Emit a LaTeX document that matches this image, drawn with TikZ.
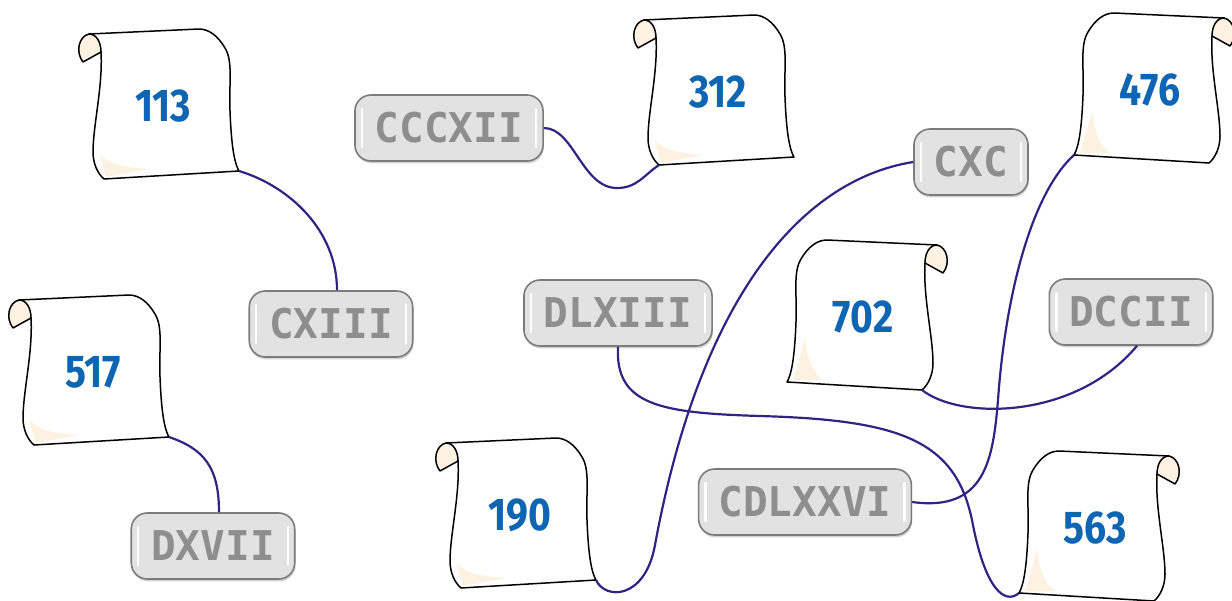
\documentclass[tikz,border=0pt]{standalone}
\usepackage{fontspec}
\usetikzlibrary{shadows}
\newfontfamily\numfont{Fira Sans}[FakeStretch=0.85]
\newfontfamily\romfont{DejaVu Sans Mono}
\definecolor{numblue}{HTML}{0E65B2}
\definecolor{linkcol}{HTML}{2F2483}
\definecolor{curlcol}{HTML}{FDF1E1}
\definecolor{tabfill}{HTML}{E2E2E2}
\definecolor{tabline}{HTML}{7C7C7C}
\definecolor{tabtext}{HTML}{8E8E8E}

% paper scroll, curl on the right, drawn round (0,0)
\newcommand{\scrollshape}{%
  \draw[scrollline, fill=white] (-36,-77) -- (74,-72) -- (62,-54)
    .. controls (60,-20) and (70,20) .. (70,46)
    .. controls (70,58) and (65,68) .. (59,73) -- (-76,65)
    .. controls (-70,55) and (-68,30) .. (-67,5)
    .. controls (-66,-25) and (-70,-45) .. (-62,-58)
    .. controls (-55,-70) and (-46,-77) .. (-36,-77) -- cycle;
  \draw[scrollline, fill=curlcol] (74,-72) .. controls (84,-70) and (88,-54) .. (80,-44)
    -- (62,-54) .. controls (62,-63) and (66,-72) .. (74,-72) -- cycle;
}

\tikzset{
  pics/scrollR/.style={code={
    \scrollshape
    \fill[curlcol] (-58,20) .. controls (-56,42) and (-50,56) .. (-40,63)
      -- (-70,63) .. controls (-66,50) and (-61,35) .. (-58,20) -- cycle;
    \node[numtext] (-txt) at (0,0) {#1};
    \coordinate (-bl) at (-76,65);
    \coordinate (-br) at (59,73);
  }},
  pics/scrollL/.style={code={
    \begin{scope}[xscale=-1] \scrollshape \end{scope}
    \fill[curlcol] (-63,48) .. controls (-56,58) and (-40,61) .. (-14,63)
      -- (-57,71) .. controls (-60,63) and (-62,55) .. (-63,48) -- cycle;
    \node[numtext] (-txt) at (0,0) {#1};
    \coordinate (-bl) at (-59,73);
    \coordinate (-br) at (76,65);
  }},
}

\begin{document}
\begin{tikzpicture}[x=0.5pt, y=-0.5pt,
    scrollline/.style={draw=black, line width=0.75pt, line join=round},
    numtext/.style={text=numblue, font=\numfont\bfseries\fontsize{23pt}{23pt}\selectfont},
    tablet/.style={draw=tabline, fill=tabfill, line width=0.8pt, rounded corners=8pt,
        inner xsep=10pt, minimum height=33pt, text=tabtext,
        font=\romfont\bfseries\fontsize{20.5pt}{20.5pt}\selectfont,
        drop shadow={shadow xshift=0.4pt, shadow yshift=-1.2pt, opacity=0.35},
        path picture={
          \draw[white, line width=1.2pt, line cap=round]
            ([xshift=3.5pt,yshift=-7pt]path picture bounding box.north west)
            -- ([xshift=3.5pt,yshift=7pt]path picture bounding box.south west);
          \draw[white, line width=1.2pt, line cap=round]
            ([xshift=-3.5pt,yshift=-7pt]path picture bounding box.north east)
            -- ([xshift=-3.5pt,yshift=7pt]path picture bounding box.south east);
        }},
    wire/.style={draw=linkcol, line width=1.1pt}]
  \useasboundingbox (0,0) rectangle (1232,600);

  % scrolls
  \pic (s113) at (163,106) {scrollL=113};
  \pic (s312) at (718,92) {scrollL=312};
  \pic (s476) at (1150,90) {scrollR=476};
  \pic (s517) at (93,372) {scrollL=517};
  \pic (s702) at (863,317) {scrollR=702};
  \pic (s190) at (520,515) {scrollL=190};
  \pic (s563) at (1095,528) {scrollR=563};

  % stone tablets
  \node[tablet] (t312) at (449,128) {CCCXII};
  \node[tablet] (t190) at (971,162) {CXC};
  \node[tablet] (t113) at (331,324) {CXIII};
  \node[tablet] (t563) at (618,313) {DLXIII};
  \node[tablet] (t702) at (1131,312) {DCCII};
  \node[tablet] (t517) at (213,546) {DXVII};
  \node[tablet] (t476) at (805,502) {CDLXXVI};

  % links
  \draw[wire] (s113-br) .. controls +(50,15) and +(0,-60) .. ([xshift=3pt]t113.north);
  \draw[wire] (s517-br) .. controls +(35,12) and +(0,-45) .. ([xshift=3pt]t517.north);
  \draw[wire] (t312.east) .. controls +(30,0) and +(-35,0) .. (617,188)
      .. controls +(20,0) and +(-15,10) .. (s312-bl);
  \draw[wire] (t190.west) .. controls (800,180) and (700,300) .. (655,545)
      .. controls (645,600) and (605,600) .. (s190-br);
  \draw[wire] (t563.south) .. controls (615,405) and (660,413) .. (760,416)
      .. controls (900,420) and (955,440) .. (972,520)
      .. controls (985,590) and (1005,605) .. (s563-bl);
  \draw[wire] (s702-br) .. controls (960,420) and (1075,420) .. ([xshift=3pt]t702.south);
  \draw[wire] (t476.east) .. controls (985,512) and (993,460) .. (998,400)
      .. controls (1005,300) and (1030,195) .. (s476-bl);
\end{tikzpicture}
\end{document}
